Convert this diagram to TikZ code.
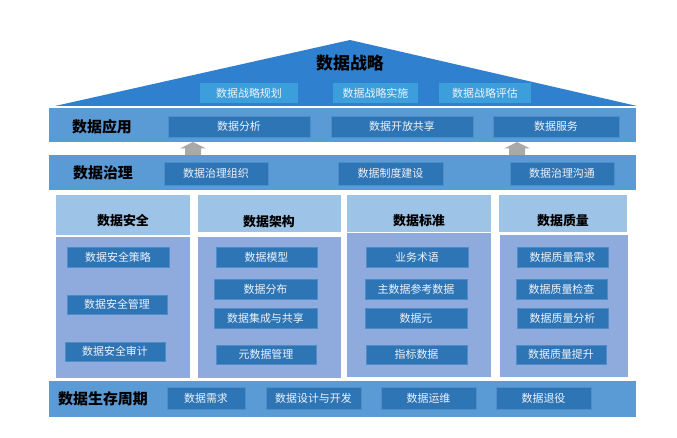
\documentclass[tikz,border=0pt]{standalone}
\usepackage{fontspec}
\setmainfont{Noto Sans CJK SC}
\usetikzlibrary{positioning}
\definecolor{roofc}{HTML}{2F80CF}
\definecolor{roofbox}{HTML}{3C9FDC}
\definecolor{bandc}{HTML}{5B9BD5}
\definecolor{innerc}{HTML}{2E75B6}
\definecolor{innerline}{HTML}{4F8DC8}
\definecolor{headc}{HTML}{9DC3E6}
\definecolor{bodyc}{HTML}{8FAADC}
\definecolor{arrowc}{HTML}{A9A9A9}
\definecolor{itext}{HTML}{EEF3FA}
\tikzset{
  band/.style={fill=bandc, draw=none, inner sep=0pt},
  ibox/.style={fill=innerc, draw=innerline, line width=0.5pt, inner sep=0pt, text=itext, font=\fontsize{11}{11}\selectfont},
  rbox/.style={fill=roofbox, draw=none, inner sep=0pt, text=itext, font=\fontsize{11}{11}\selectfont},
  blabel/.style={inner sep=0pt, font=\fontsize{15}{15}\selectfont\bfseries, text=black},
  hlabel/.style={inner sep=0pt, font=\fontsize{13}{13}\selectfont\bfseries, text=black},
  colhead/.style={fill=headc, draw=none, inner sep=0pt},
  colbody/.style={fill=bodyc, draw=none, inner sep=0pt},
  uparrow/.style={fill=arrowc, draw=none}
}
\begin{document}
\begin{tikzpicture}[x=1bp,y=-1bp]
\useasboundingbox (0,0) rectangle (677,438);
% roof
\coordinate (roofL) at (55,106);
\coordinate (roofT) at (350,40);
\coordinate (roofR) at (637,106);
\fill[roofc] (roofL) -- (roofT) -- (roofR) -- cycle;
\node[blabel, font=\fontsize{17}{17}\selectfont\bfseries] (strategy) at (350,63) {数据战略};
\node[rbox, minimum width=98bp, minimum height=20bp] (s1) at (249,93) {数据战略规划};
\node[rbox, minimum width=85bp, minimum height=20bp] (s2) at (375.5,93) {数据战略实施};
\node[rbox, minimum width=92bp, minimum height=20bp] (s3) at (485,93) {数据战略评估};
% application band
\node[band, minimum width=587bp, minimum height=34bp] (app) at (342.5,125) {};
\node[blabel] (applbl) at (102,127) {数据应用};
\node[ibox, minimum width=142bp, minimum height=21bp] (a1) at (239,126.5) {数据分析};
\node[ibox, minimum width=142bp, minimum height=21bp] (a2) at (402,126.5) {数据开放共享};
\node[ibox, minimum width=126bp, minimum height=21bp] (a3) at (556,126.5) {数据服务};
% governance band
\node[band, minimum width=587bp, minimum height=35bp] (gov) at (342.5,172.5) {};
\node[blabel] (govlbl) at (103,173) {数据治理};
\node[ibox, minimum width=104bp, minimum height=23bp] (g1) at (216,173.5) {数据治理组织};
\node[ibox, minimum width=105bp, minimum height=23bp] (g2) at (390.5,173.5) {数据制度建设};
\node[ibox, minimum width=104bp, minimum height=23bp] (g3) at (562,173.5) {数据治理沟通};
% arrows
\foreach \ax/\nm in {193/arrA,517/arrB}{
  \fill[uparrow] (\ax,142) -- (\ax+13,148.5) -- (\ax+8,148.5) -- (\ax+8,155) -- (\ax-8,155) -- (\ax-8,148.5) -- (\ax-13,148.5) -- cycle;
}
% columns
\node[colhead, minimum width=134bp, minimum height=40bp] (h1) at (123,215) {};
\node[colbody, minimum width=134bp, minimum height=141bp] (b1) at (123,307.5) {};
\node[colhead, minimum width=143bp, minimum height=37bp] (h2) at (269.5,213.5) {};
\node[colbody, minimum width=143bp, minimum height=141bp] (b2) at (269.5,307.5) {};
\node[colhead, minimum width=144bp, minimum height=37bp] (h3) at (419,213.5) {};
\node[colbody, minimum width=144bp, minimum height=144bp] (b3) at (419,305) {};
\node[colhead, minimum width=128bp, minimum height=37bp] (h4) at (563,213.5) {};
\node[colbody, minimum width=128bp, minimum height=142bp] (b4) at (564,306) {};
\node[hlabel] (h1t) at (123,221) {数据安全};
\node[hlabel] (h2t) at (269,222) {数据架构};
\node[hlabel] (h3t) at (419,221) {数据标准};
\node[hlabel] (h4t) at (563,221) {数据质量};
% column 1
\node[ibox, minimum width=102bp, minimum height=20bp] (c11) at (118,257) {数据安全策略};
\node[ibox, minimum width=100bp, minimum height=19bp] (c12) at (117,304.5) {数据安全管理};
\node[ibox, minimum width=100bp, minimum height=19bp] (c13) at (115,351.5) {数据安全审计};
% column 2
\node[ibox, minimum width=101bp, minimum height=20bp] (c21) at (266.5,257) {数据模型};
\node[ibox, minimum width=103bp, minimum height=20bp] (c22) at (265.5,289) {数据分布};
\node[ibox, minimum width=103bp, minimum height=20bp] (c23) at (265.5,318) {数据集成与共享};
\node[ibox, minimum width=100bp, minimum height=19bp] (c24) at (266,354.5) {元数据管理};
% column 3
\node[ibox, minimum width=102bp, minimum height=20bp] (c31) at (417,257) {业务术语};
\node[ibox, minimum width=102bp, minimum height=20bp] (c32) at (416,289) {主数据参考数据};
\node[ibox, minimum width=102bp, minimum height=20bp] (c33) at (416,318) {数据元};
\node[ibox, minimum width=101bp, minimum height=19bp] (c34) at (416.5,354.5) {指标数据};
% column 4
\node[ibox, minimum width=91bp, minimum height=20bp] (c41) at (562.5,257) {数据质量需求};
\node[ibox, minimum width=91bp, minimum height=20bp] (c42) at (561.5,289) {数据质量检查};
\node[ibox, minimum width=91bp, minimum height=20bp] (c43) at (562.5,318) {数据质量分析};
\node[ibox, minimum width=90bp, minimum height=19bp] (c44) at (561,354.5) {数据质量提升};
% lifecycle band
\node[band, minimum width=587bp, minimum height=36bp] (life) at (342.5,399) {};
\node[blabel] (lifelbl) at (103,399) {数据生存周期};
\node[ibox, minimum width=78bp, minimum height=22bp] (l1) at (206,398) {数据需求};
\node[ibox, minimum width=95bp, minimum height=22bp] (l2) at (313.5,398) {数据设计与开发};
\node[ibox, minimum width=95bp, minimum height=22bp] (l3) at (428.5,398) {数据运维};
\node[ibox, minimum width=95bp, minimum height=22bp] (l4) at (543.5,398) {数据退役};
\end{tikzpicture}
\end{document}
